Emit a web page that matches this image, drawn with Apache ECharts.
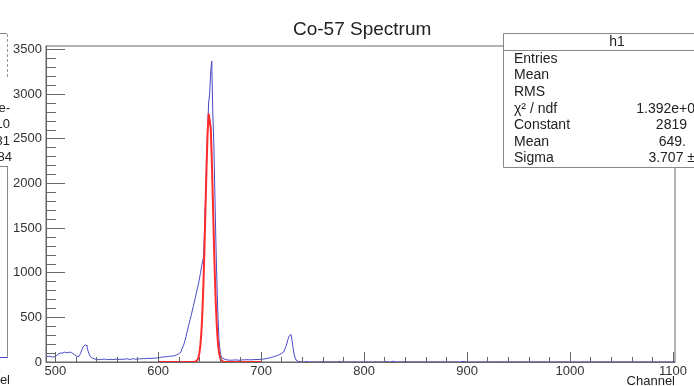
<!DOCTYPE html>
<html>
<head>
<meta charset="utf-8">
<script src="https://cdn.jsdelivr.net/npm/echarts@6/dist/echarts.min.js"></script>
<style>
  html, body { margin: 0; padding: 0; background: #fff; }
  #chart { width: 694px; height: 386px; }
</style>
</head>
<body>
<div id="chart"></div>
<script>
// histogram counts, one value per channel, starting at firstChannel
const firstChannel = 491
const counts = [
  60, 62, 70, 65, 58, 55, 60, 58, 62,
  70, 78, 88, 95, 100, 106, 100, 104, 110, 112,
  105, 112, 108, 104, 110, 100, 95, 90, 80, 68,
  62, 60, 62, 70, 85, 110, 140, 170, 190, 198,
  185, 160, 120, 85, 60, 45, 38, 35, 30, 28,
  30, 26, 32, 28, 25, 30, 27, 33, 29, 26,
  31, 28, 24, 30, 33, 27, 29, 32, 26, 30,
  34, 29, 27, 31, 35, 30, 28, 33, 30, 36,
  32, 29, 35, 31, 34, 38, 33, 30, 36, 34,
  38, 35, 40, 36, 33, 39, 42, 37, 40, 44,
  41, 38, 45, 42, 46, 43, 48, 44, 50, 47,
  // 600
  45, 50, 48, 55, 52, 58, 55, 60, 58, 62,
  60, 65, 68, 66, 70, 72, 75, 80, 85, 92,
  100, 110, 125, 145, 170, 200, 240, 285, 335, 385,
  430, 475, 520, 570, 620, 670, 720, 770, 820, 870,
  930, 990, 1060, 1120, 1170, 1450, 1850, 2250, 2600, 2900,
  3010, 3250, 3370, 2800, 2450, 1900, 1350, 900, 520, 260,
  130, 70, 45, 35, 30, 26, 24, 22, 25, 20,
  23, 21, 19, 22, 20, 24, 21, 19, 23, 20,
  22, 25, 21, 24, 22, 26, 23, 25, 28, 24,
  27, 26, 29, 27, 30, 28, 31, 29, 32, 30,
  // 700
  32, 33, 35, 36, 38, 41, 43, 46, 49, 52,
  56, 59, 63, 66, 70, 74, 79, 84, 90, 97,
  105, 113, 125, 145, 172, 208, 252, 288, 308, 296,
  240, 160, 90, 45, 20, 8, 4, 2
]
// isolated counts further out
const tailChannels = [743, 759, 766, 775, 814, 818, 821, 827, 839, 882, 886, 890, 895, 902, 906, 942, 968, 1004, 1018, 1036, 1082, 1096]
const tailCounts = [6, 5, 7, 5, 8, 6, 5, 9, 6, 5, 7, 6, 8, 5, 7, 6, 5, 7, 5, 6, 5, 7]
const lastChannel = 1102

// gaussian fit curve as drawn (red)
const fitX = [600, 636, 637, 638, 639, 640, 641, 642, 643, 644, 645, 646, 647, 648, 649, 650,
  651, 652, 653, 654, 655, 656, 657, 658, 659, 660, 661, 662, 663, 664, 700]
const fitY = [0, 3.4, 8.7, 21, 47, 99, 191, 344, 578, 901, 1305, 1759, 2204, 2568, 2782, 2803,
  2625, 2286, 1851, 1394, 976, 635, 384, 216, 113, 55, 25, 10.5, 4.1, 1.5, 0]

const xTicks = [500, 600, 700, 800, 900, 1000, 1100]
const yTicks = [0, 500, 1000, 1500, 2000, 2500, 3000, 3500]
const xMinorStep = 20
const yMinorStep = 100

const statsTitle = 'h1'
const statsLabels = ['Entries', 'Mean', 'RMS', 'χ² / ndf', 'Constant', 'Mean', 'Sigma']
const statsValues = ['', '', '', '1.392e+0', '2819', '649.', '3.707 ±']

const font = 'Liberation Sans, Arial, Helvetica, sans-serif'

let histData = []
for (let c = firstChannel; c <= lastChannel; c++) {
  let v = 0
  if (c - firstChannel < counts.length) v = counts[c - firstChannel]
  let k = tailChannels.indexOf(c)
  if (k >= 0) v = tailCounts[k]
  histData.push([c, v])
}
let fitData = fitX.map((x, i) => [x, fitY[i]])

let xMinor = []
for (let v = xTicks[0]; v <= xTicks[xTicks.length - 1]; v += xMinorStep) xMinor.push(v)
let yMinor = []
for (let v = yTicks[0]; v <= yTicks[yTicks.length - 1]; v += yMinorStep) yMinor.push(v)

const axisColor = '#666'
const plain = v => String(v)

let myChart = echarts.init(document.getElementById('chart'))

// stats box on the right
let statsBox = [
  { type: 'rect', shape: { x: 503.5, y: 33.5, width: 250, height: 134 },
    style: { fill: '#fff', stroke: '#888', lineWidth: 1 }, z: 100 },
  { type: 'line', shape: { x1: 503.5, y1: 50.5, x2: 760, y2: 50.5 },
    style: { stroke: '#888', lineWidth: 1 }, z: 101 },
  { type: 'text', x: 617, y: 42, z: 101,
    style: { text: statsTitle, fill: '#222', font: '14px ' + font, textAlign: 'center', textVerticalAlign: 'middle' } }
]
const rowY = [59, 75.5, 92, 109, 125.5, 142, 158.5]
const valueRight = [694, 694, 694, 695, 687, 686, 695]
statsLabels.forEach((lab, i) => {
  statsBox.push({ type: 'text', x: 514, y: rowY[i], z: 101,
    style: { text: lab, fill: '#222', font: '14px ' + font, textVerticalAlign: 'middle' } })
  if (statsValues[i]) {
    statsBox.push({ type: 'text', x: valueRight[i], y: rowY[i], z: 101,
      style: { text: statsValues[i], fill: '#222', font: '14px ' + font, textAlign: 'right', textVerticalAlign: 'middle' } })
  }
})

// bits of the neighbouring pad on the left
let leftPad = [
  { type: 'line', shape: { x1: 0, y1: 33.5, x2: 7, y2: 33.5 }, style: { stroke: '#888', lineWidth: 1 } },
  { type: 'line', shape: { x1: 7.5, y1: 34, x2: 7.5, y2: 78 }, style: { stroke: '#999', lineWidth: 1, lineDash: [3, 2] } },
  { type: 'text', x: 10, y: 108, style: { text: 'e-', fill: '#222', font: '13px ' + font, textAlign: 'right', textVerticalAlign: 'middle' } },
  { type: 'text', x: 10, y: 124, style: { text: '10', fill: '#222', font: '13px ' + font, textAlign: 'right', textVerticalAlign: 'middle' } },
  { type: 'text', x: 10, y: 141, style: { text: '31', fill: '#222', font: '13px ' + font, textAlign: 'right', textVerticalAlign: 'middle' } },
  { type: 'text', x: 12, y: 157, style: { text: '84', fill: '#222', font: '13px ' + font, textAlign: 'right', textVerticalAlign: 'middle' } },
  { type: 'line', shape: { x1: 0, y1: 166.5, x2: 8, y2: 166.5 }, style: { stroke: '#888', lineWidth: 1 } },
  { type: 'line', shape: { x1: 7.5, y1: 166.5, x2: 7.5, y2: 358 }, style: { stroke: '#888', lineWidth: 1 } },
  { type: 'line', shape: { x1: 0, y1: 357.5, x2: 7, y2: 357.5 }, style: { stroke: '#4848c8', lineWidth: 1 } },
  { type: 'text', x: 10, y: 374, style: { text: 'el', fill: '#222', font: '13px ' + font, textAlign: 'right', textVerticalAlign: 'top' } }
]

let option = {
  backgroundColor: '#fff',
  animation: false,
  title: {
    text: 'Co-57 Spectrum',
    left: 288,
    top: 15,
    textStyle: { fontFamily: font, fontSize: 19, fontWeight: 'normal', color: '#222' }
  },
  grid: {
    left: 46, right: 19, top: 46, bottom: 24,
    show: true, borderColor: axisColor, borderWidth: 1, backgroundColor: '#fff'
  },
  xAxis: [
    {
      type: 'value', min: 491, max: 1102, position: 'bottom', z: 10,
      axisLine: { show: true, onZero: false, lineStyle: { color: axisColor } },
      axisTick: { show: true, inside: true, length: 10, customValues: xTicks, lineStyle: { color: axisColor } },
      axisLabel: { customValues: xTicks, formatter: plain, color: '#333', fontSize: 13, fontFamily: font, margin: 3 },
      splitLine: { show: false }
    },
    {
      type: 'value', min: 491, max: 1102, position: 'bottom', z: 10,
      axisLine: { show: false },
      axisTick: { show: true, inside: true, length: 5, customValues: xMinor, lineStyle: { color: axisColor } },
      axisLabel: { show: false },
      splitLine: { show: false }
    }
  ],
  yAxis: [
    {
      type: 'value', min: 0, max: 3538, position: 'left', z: 10,
      axisLine: { show: true, onZero: false, lineStyle: { color: axisColor } },
      axisTick: { show: true, inside: true, length: 19, customValues: yTicks, lineStyle: { color: axisColor } },
      axisLabel: { customValues: yTicks, formatter: plain, color: '#333', fontSize: 13, fontFamily: font, margin: 4 },
      splitLine: { show: false }
    },
    {
      type: 'value', min: 0, max: 3538, position: 'left', z: 10,
      axisLine: { show: false },
      axisTick: { show: true, inside: true, length: 10, customValues: yMinor, lineStyle: { color: axisColor } },
      axisLabel: { show: false },
      splitLine: { show: false }
    }
  ],
  series: [
    {
      name: 'h1',
      type: 'line',
      xAxisIndex: 0, yAxisIndex: 0,
      step: 'end',
      data: histData,
      showSymbol: false,
      lineStyle: { color: '#4848c8', width: 1 },
      z: 2
    },
    {
      name: 'gaus',
      type: 'line',
      xAxisIndex: 0, yAxisIndex: 0,
      data: fitData,
      showSymbol: false,
      lineStyle: { color: '#ff2a2a', width: 2 },
      z: 3
    }
  ],
  graphic: [
    { type: 'text', x: 675, y: 375, style: { text: 'Channel', fill: '#222', font: '13px ' + font, textAlign: 'right', textVerticalAlign: 'top' } },
    ...leftPad,
    ...statsBox
  ]
}
myChart.setOption(option)
</script>
</body>
</html>
